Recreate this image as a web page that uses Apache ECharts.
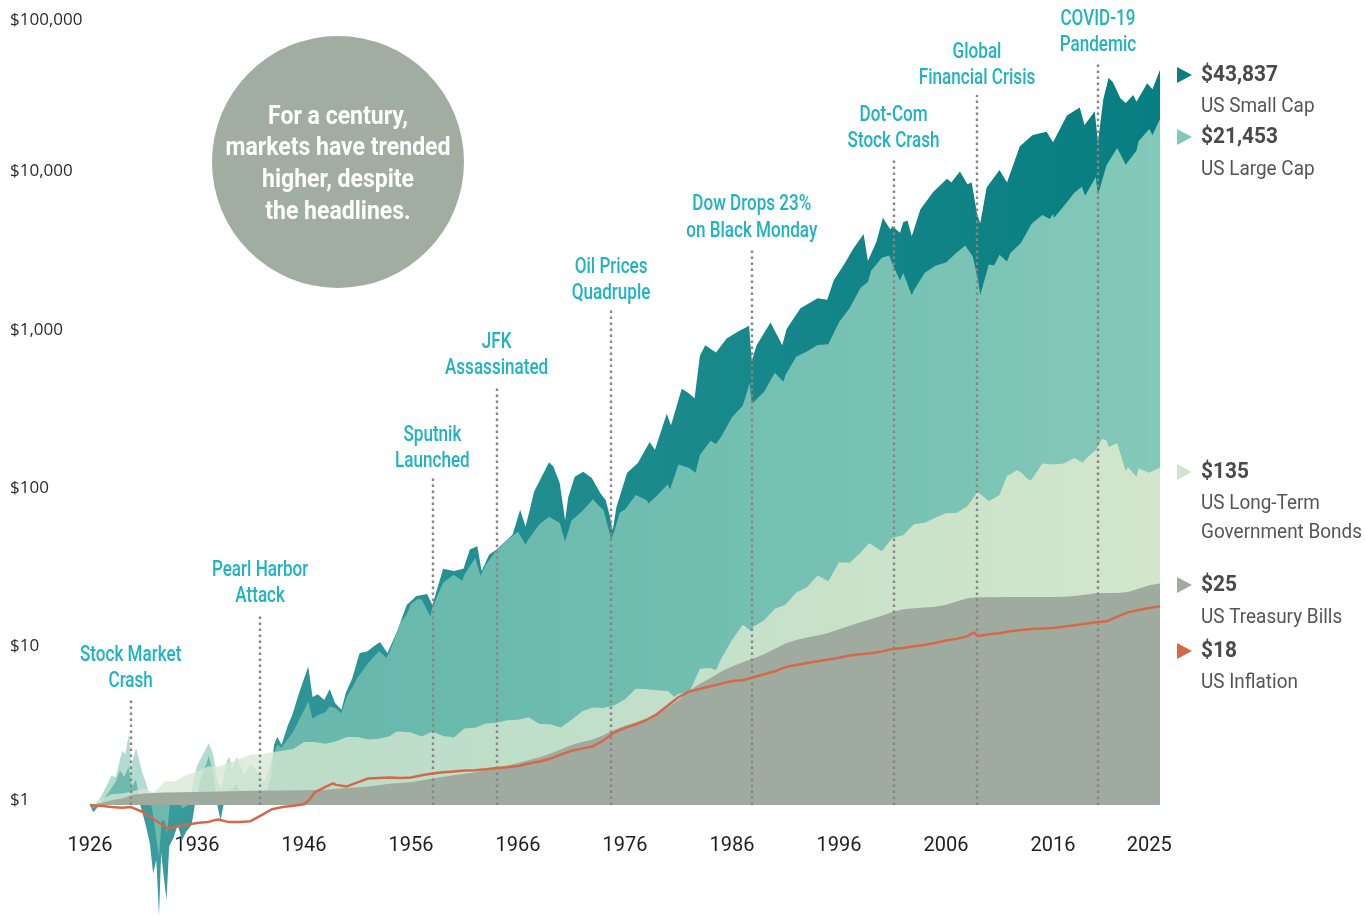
<!DOCTYPE html>
<html>
<head>
<meta charset="utf-8">
<script src="https://cdn.jsdelivr.net/npm/echarts@6/dist/echarts.min.js"></script>
<style>html,body{margin:0;padding:0;background:#fff}#c{width:1365px;height:917px}</style>
</head>
<body>
<div id="c"></div>
<script>
// ---------- DATA (time in years, growth of $1) ----------
const smallCap = [[1926.0,1.00],[1926.3,0.90],[1926.9,1.00],[1927.7,1.19],[1928.4,1.40],[1928.8,1.66],[1929.2,1.50],[1929.6,1.74],[1929.9,1.30],[1930.3,1.45],[1930.7,1.00],[1931.2,0.75],[1931.6,0.57],[1931.9,0.37],[1932.2,0.45],[1932.45,0.20],[1932.65,0.50],[1932.9,0.35],[1933.15,0.25],[1933.4,0.55],[1933.8,0.62],[1934.2,0.75],[1934.6,0.60],[1935.0,0.68],[1935.5,0.75],[1935.9,1.10],[1936.4,1.50],[1936.9,1.85],[1937.1,2.05],[1937.5,1.60],[1937.9,1.00],[1938.2,0.80],[1938.6,1.10],[1939.0,1.20],[1939.7,1.35],[1940.4,1.05],[1940.9,1.15],[1941.5,1.05],[1942.3,1.08],[1942.9,1.50],[1943.2,2.40],[1943.5,2.70],[1943.9,2.40],[1944.5,3.20],[1944.9,3.70],[1945.5,5.00],[1945.9,6.00],[1946.4,7.50],[1946.8,4.80],[1947.3,5.00],[1947.9,4.60],[1948.4,5.40],[1948.9,4.40],[1949.5,4.00],[1949.9,5.10],[1950.5,6.30],[1951.2,9.10],[1951.9,9.30],[1952.5,10.0],[1953.1,10.7],[1953.8,9.10],[1954.7,12.5],[1955.6,18.3],[1956.5,20.9],[1957.5,21.5],[1958.0,18.3],[1959.0,31.0],[1960.0,30.0],[1960.9,31.0],[1961.5,41.0],[1962.2,43.0],[1962.6,30.0],[1963.3,38.0],[1964.0,41.0],[1965.5,51.0],[1966.2,73.0],[1966.7,57.0],[1967.1,73.0],[1967.5,95.0],[1968.4,125],[1968.9,146],[1969.3,137],[1969.9,108],[1970.4,63],[1970.7,88],[1971.3,118],[1972.1,127],[1972.9,116],[1973.7,93],[1974.2,84],[1974.6,66],[1974.85,54],[1975.2,76],[1976.2,125],[1977.2,144],[1978.3,196],[1978.8,175],[1979.9,295],[1980.3,250],[1981.3,424],[1981.9,400],[1982.5,370],[1983.0,685],[1983.5,800],[1984.5,720],[1985.5,880],[1986.7,985],[1987.6,1060],[1987.85,640],[1988.3,800],[1989.6,1110],[1990.7,800],[1991.1,1010],[1992.4,1370],[1994.0,1580],[1994.9,1550],[1995.5,2050],[1996.5,2600],[1997.3,3220],[1998.3,4020],[1998.7,2720],[1999.5,3600],[2000.1,5100],[2000.8,4300],[2001.0,4500],[2001.7,4100],[2002.0,4780],[2002.4,4900],[2002.8,3900],[2003.6,5750],[2004.8,7400],[2006.1,9000],[2006.5,8500],[2007.3,10000],[2008.0,8300],[2008.4,8500],[2008.9,5400],[2009.2,4700],[2009.8,7900],[2011.0,10200],[2011.7,8500],[2012.9,14400],[2014.1,17000],[2015.4,17800],[2016.0,15300],[2017.3,22500],[2018.5,25300],[2018.95,19600],[2019.9,24000],[2020.2,15300],[2020.7,28500],[2021.2,39000],[2021.6,36500],[2022.3,29000],[2022.8,27000],[2023.5,30400],[2023.8,27500],[2024.8,36000],[2025.3,33000],[2026.0,43837]];

const largeCap = [[1926.0,1.00],[1926.3,0.95],[1927.0,1.12],[1927.5,1.30],[1928.0,1.53],[1928.4,1.50],[1929.0,2.20],[1929.3,2.10],[1929.65,2.85],[1929.85,1.75],[1930.3,2.30],[1930.9,1.59],[1931.2,1.40],[1931.6,1.12],[1931.9,0.86],[1932.45,0.47],[1932.7,0.80],[1933.0,0.79],[1933.2,0.65],[1933.5,1.10],[1934.0,1.21],[1934.6,0.95],[1935.2,1.00],[1936.0,1.77],[1936.5,2.05],[1937.1,2.46],[1937.5,2.10],[1937.9,1.45],[1938.25,1.25],[1938.8,1.90],[1939.0,2.02],[1939.3,1.70],[1939.7,2.00],[1940.4,1.55],[1941.0,1.81],[1941.9,1.55],[1942.3,1.40],[1943.0,1.93],[1943.5,2.40],[1943.9,2.30],[1945.0,2.91],[1945.5,3.40],[1946.0,3.97],[1946.4,4.50],[1946.8,3.50],[1947.3,3.70],[1948.0,3.85],[1948.4,4.20],[1949.0,4.07],[1949.5,3.80],[1950.0,4.83],[1950.5,5.50],[1951.0,6.36],[1952.0,7.89],[1953.0,9.34],[1953.7,8.50],[1954.0,9.24],[1955.0,14.1],[1955.6,16.0],[1956.0,18.6],[1956.6,20.0],[1957.0,19.8],[1957.8,15.5],[1958.0,17.7],[1959.0,25.3],[1960.0,28.4],[1960.8,26.0],[1961.0,28.5],[1962.0,36.2],[1962.5,28.0],[1963.0,33.0],[1964.0,40.6],[1965.0,47.2],[1966.0,53.1],[1966.7,44.0],[1967.0,47.8],[1968.0,59.2],[1968.9,66.0],[1969.9,60.2],[1970.4,46.0],[1971.0,62.6],[1972.0,71.6],[1973.0,85.2],[1973.5,78.0],[1974.0,72.7],[1974.7,48.0],[1975.0,53.4],[1975.5,70.0],[1976.0,73.3],[1977.0,90.7],[1978.0,84.2],[1978.2,80.0],[1979.0,89.8],[1980.0,106],[1980.2,98],[1981.0,141],[1982.0,134],[1982.6,125],[1983.0,162],[1984.0,199],[1984.5,190],[1985.0,212],[1986.0,280],[1987.0,331],[1987.65,460],[1987.85,340],[1988.0,349],[1989.0,407],[1990.0,535],[1990.8,470],[1991.0,518],[1992.0,677],[1993.0,729],[1994.0,802],[1995.0,812],[1996.0,1116],[1997.0,1374],[1998.0,1833],[1998.7,2000],[1999.0,2357],[2000.0,2852],[2000.7,2950],[2001.0,2590],[2001.7,2050],[2002.0,2280],[2002.8,1650],[2003.0,1775],[2004.0,2285],[2005.0,2533],[2006.0,2658],[2007.0,3077],[2007.8,3400],[2008.0,3246],[2008.5,2900],[2009.0,2045],[2009.2,1650],[2010.0,2587],[2010.5,2550],[2011.0,2977],[2011.7,2700],[2012.0,3040],[2013.0,3527],[2014.0,4669],[2015.0,5308],[2015.7,5000],[2016.0,5382],[2016.1,5100],[2017.0,6028],[2018.0,7343],[2018.7,8000],[2019.0,7020],[2020.0,9231],[2020.2,7100],[2021.0,10929],[2022.0,14066],[2022.8,11000],[2023.0,11520],[2023.8,13500],[2024.0,15500],[2025.0,18500],[2025.3,17000],[2026.0,21453]];

const bonds = [[1926,1.00],[1927,1.08],[1928,1.17],[1929,1.18],[1930,1.22],[1931,1.27],[1932,1.20],[1933,1.41],[1934,1.41],[1935,1.55],[1936,1.62],[1937,1.75],[1938,1.75],[1939,1.85],[1940,1.96],[1941,2.08],[1942,2.09],[1943,2.15],[1944,2.20],[1945,2.26],[1946,2.50],[1947,2.50],[1948,2.44],[1949,2.53],[1950,2.69],[1951,2.69],[1952,2.59],[1953,2.62],[1954,2.72],[1954.6,2.90],[1955,2.91],[1956,2.87],[1957,2.71],[1958,2.91],[1959,2.73],[1960,2.67],[1961,3.04],[1962,3.07],[1963,3.27],[1964,3.31],[1965,3.43],[1966,3.45],[1967,3.58],[1968,3.25],[1969,3.24],[1970,3.08],[1971,3.45],[1972,3.91],[1973,4.13],[1974,4.09],[1975,4.27],[1976,4.65],[1977,5.42],[1978,5.38],[1979,5.31],[1980,5.24],[1980.6,4.80],[1981,5.04],[1982,5.14],[1983,7.26],[1984,7.32],[1984.5,7.10],[1985,8.42],[1986,11.02],[1987,13.73],[1987.8,12.50],[1988,13.34],[1989,14.68],[1990,17.33],[1991,18.40],[1992,21.94],[1993,23.71],[1994,28.07],[1995,25.86],[1996,34.07],[1997,33.78],[1998,39.12],[1998.8,45.00],[1999,44.20],[2000,40.00],[2001,48.60],[2002,50.50],[2003,59.20],[2004,60.60],[2005,65.10],[2006,69.40],[2007,70.10],[2008,76.90],[2008.95,95.00],[2009,96.00],[2010,82.70],[2011,90.50],[2011.7,120.0],[2012,122.0],[2012.6,130.0],[2013,126.0],[2013.7,113.0],[2014,113.0],[2015,143.0],[2016,141.0],[2017,143.0],[2018,155.0],[2018.8,145.0],[2019,152.0],[2020,174.0],[2020.6,205.0],[2021,200.0],[2021.2,182.0],[2022,192.0],[2022.8,128.0],[2023,136.0],[2023.8,118.0],[2024,133.0],[2025,125.0],[2026,135.0]];

const tBills = [[1926,1.00],[1927,1.03],[1928,1.07],[1929,1.10],[1930,1.16],[1931,1.18],[1932,1.19],[1933,1.20],[1936,1.21],[1941,1.23],[1946,1.24],[1948,1.25],[1950,1.28],[1952,1.31],[1954,1.36],[1956,1.39],[1958,1.47],[1960,1.54],[1962,1.61],[1964,1.71],[1966,1.84],[1968,2.00],[1969,2.11],[1970,2.25],[1971,2.39],[1972,2.50],[1973,2.59],[1974,2.77],[1975,2.99],[1976,3.17],[1977,3.33],[1978,3.50],[1979,3.75],[1980,4.14],[1981,4.60],[1982,5.27],[1983,5.83],[1984,6.34],[1985,6.96],[1986,7.50],[1987,7.96],[1988,8.40],[1989,8.94],[1990,9.69],[1991,10.45],[1992,11.01],[1993,11.40],[1994,11.73],[1995,12.19],[1996,12.87],[1997,13.53],[1998,14.23],[1999,14.93],[2000,15.64],[2001,16.56],[2002,17.19],[2003,17.47],[2004,17.65],[2005,17.86],[2006,18.40],[2007,19.28],[2008,20.19],[2009,20.51],[2012,20.55],[2016,20.60],[2017,20.66],[2018,20.85],[2019,21.24],[2020,21.70],[2021,21.80],[2022,21.81],[2023,22.10],[2024,23.20],[2025,24.40],[2026,25.00]];

const inflation = [[1926.0,1.00],[1926.5,0.99],[1927.0,0.99],[1928.0,0.97],[1929.0,0.96],[1929.8,0.97],[1930.0,0.96],[1931.0,0.90],[1932.0,0.81],[1933.0,0.73],[1933.2,0.71],[1934.0,0.73],[1935.0,0.75],[1936.0,0.77],[1937.0,0.78],[1937.6,0.80],[1938.0,0.81],[1939.0,0.78],[1940.0,0.78],[1941.0,0.79],[1942.0,0.86],[1943.0,0.94],[1944.0,0.97],[1945.0,0.99],[1946.0,1.01],[1946.5,1.08],[1947.0,1.20],[1948.0,1.30],[1948.7,1.37],[1949.0,1.34],[1950.0,1.31],[1951.0,1.39],[1952.0,1.47],[1953.0,1.48],[1954.0,1.49],[1955.0,1.48],[1956.0,1.49],[1957.0,1.54],[1958.0,1.58],[1959.0,1.61],[1960.0,1.63],[1961.0,1.65],[1962.0,1.66],[1963.0,1.68],[1964.0,1.71],[1965.0,1.73],[1966.0,1.76],[1967.0,1.83],[1968.0,1.88],[1969.0,1.96],[1970.0,2.08],[1971.0,2.20],[1972.0,2.27],[1973.0,2.35],[1974.0,2.56],[1975.0,2.87],[1976.0,3.07],[1977.0,3.22],[1978.0,3.44],[1979.0,3.75],[1980.0,4.25],[1981.0,4.79],[1982.0,5.21],[1983.0,5.41],[1984.0,5.62],[1985.0,5.84],[1986.0,6.06],[1987.0,6.13],[1988.0,6.41],[1989.0,6.69],[1990.0,6.99],[1991.0,7.42],[1992.0,7.65],[1993.0,7.87],[1994.0,8.08],[1995.0,8.30],[1996.0,8.51],[1997.0,8.80],[1998.0,8.95],[1999.0,9.09],[2000.0,9.33],[2001.0,9.65],[2002.0,9.80],[2003.0,10.04],[2004.0,10.23],[2005.0,10.57],[2006.0,10.92],[2007.0,11.19],[2008.0,11.65],[2008.6,12.30],[2009.0,11.65],[2010.0,11.97],[2011.0,12.15],[2012.0,12.51],[2013.0,12.73],[2014.0,12.92],[2015.0,13.01],[2016.0,13.10],[2017.0,13.37],[2018.0,13.66],[2019.0,13.93],[2020.0,14.25],[2021.0,14.44],[2022.0,15.46],[2023.0,16.45],[2024.0,17.00],[2025.0,17.50],[2026.0,18.00]];

const xTickLabels = [1926,1936,1946,1956,1966,1976,1986,1996,2006,2016,2025];
const eventYears  = [1929.8,1941.9,1958.0,1964.0,1974.7,1987.85,2001.1,2008.9,2020.2];
const eventTops   = [4.74,16.3,116,449,1335,3317,12160,30360,49070];
const eventLabels = ['Stock Market\nCrash','Pearl Harbor\nAttack','Sputnik\nLaunched','JFK\nAssassinated','Oil Prices\nQuadruple','Dow Drops 23%\non Black Monday','Dot-Com\nStock Crash','Global\nFinancial Crisis','COVID-19\nPandemic'];
const legendValues = ['$43,837','$21,453','$135','$25','$18'];
const legendNames  = ['US Small Cap','US Large Cap','US Long-Term\nGovernment Bonds','US Treasury Bills','US Inflation'];
const calloutText  = 'For a century,\nmarkets have trended\nhigher, despite\nthe headlines.';

// ---------- fonts (condensed look by horizontal scaling) ----------
const FONT = 'Roboto';
const mctx = document.createElement('canvas').getContext('2d');
function scaleFor(text, weight, size, target){ mctx.font = weight + ' ' + size + 'px ' + FONT; return target / mctx.measureText(text).width; }
const annSize = 22, annScale = scaleFor('on Black Monday', '500', annSize, 131);
const legNameSize = 21, legNameScale = scaleFor('Government Bonds', 'normal', legNameSize, 161);
const legValSize = 22, legValScale = scaleFor('$43,837', 'bold', legValSize, 77);
const circSize = 25, circScale = scaleFor('markets have trended', 'bold', circSize, 225);

// ---------- chart ----------
function grad(stops){ return {type:'linear',x:0,y:0,x2:1,y2:0,colorStops:stops.map(s=>({offset:s[0],color:s[1]}))}; }
function area(name, data, color){
  return {type:'line', name, data, symbol:'none', showSymbol:false, smooth:false, silent:true,
    lineStyle:{width:0, opacity:0}, areaStyle:{color, origin:1, opacity:1}};
}
const chart = echarts.init(document.getElementById('c'), null, {renderer:'canvas'});
const yFmt = v => {
  if (v < 0.99) return '';
  const s = '$' + Math.round(v).toLocaleString('en-US');
  if (Math.round(v) === 100000) return '{t|' + s + '}';
  if (Math.round(v) === 1) return '{b|' + s + '}';
  return s;
};
const yLabFont = {fontFamily:"'Open Sans', sans-serif", fontSize:17, color:'#2b2b2b'};

const legendY = [75,137,472,585,651];
const legendNameY = [104,167,501,615,680];
const legendColors = ['#0a7f82','#82c9b8','#cfe5cb','#a0ab9f','#d4694a'];
const graphics = [
  {type:'circle', shape:{cx:338, cy:162, r:126}, style:{fill:'#a0ada0'}, silent:true, z:10},
  {type:'text', x:338, y:165, scaleX:circScale, silent:true, z:11, style:{text:calloutText, fill:'#ffffff', fontFamily:FONT, fontWeight:'bold', fontSize:circSize, lineHeight:31.7, align:'center', verticalAlign:'middle'}}
];
legendValues.forEach((v,i)=>{
  const y = legendY[i];
  graphics.push({type:'polygon', shape:{points:[[1177,y-8],[1177,y+8],[1192,y]]}, style:{fill:legendColors[i]}, silent:true, z:10});
  graphics.push({type:'text', x:1201, y:y, scaleX:legValScale, silent:true, z:10, style:{text:v, fill:'#4a4a4a', fontFamily:FONT, fontWeight:'bold', fontSize:legValSize, align:'left', verticalAlign:'middle'}});
  graphics.push({type:'text', x:1201, y:legendNameY[i] - 12, scaleX:legNameScale, silent:true, z:10, style:{text:legendNames[i], fill:'#555555', fontFamily:FONT, fontSize:legNameSize, lineHeight:29, align:'left', verticalAlign:'top'}});
});

chart.setOption({
  animation:false,
  backgroundColor:'#ffffff',
  grid:{left:90, right:205, top:13, bottom:-46.4, containLabel:false, outerBoundsMode:'none'},
  xAxis:{type:'value', min:1926, max:2026, offset:-134,
    axisLine:{show:false}, axisTick:{show:false}, splitLine:{show:false},
    axisLabel:{customValues:xTickLabels, margin:7, color:'#1e1e1e', fontFamily:FONT, fontSize:20, formatter:v=>String(Math.round(v))}},
  yAxis:{type:'log', logBase:10, min:0.1, max:100000,
    axisLine:{show:false}, axisTick:{show:false}, splitLine:{show:false},
    axisLabel:Object.assign({align:'left', margin:80, formatter:yFmt,
      rich:{t:Object.assign({padding:[14,0,0,0]}, yLabFont), b:Object.assign({padding:[0,0,10,0]}, yLabFont)}}, yLabFont)},
  series:[
    area('US Small Cap', smallCap, grad([[0,'#3f9e9e'],[0.2,'#2e9597'],[0.45,'#1e8c8f'],[0.75,'#118487'],[1,'#077e81']])),
    area('US Large Cap', largeCap, grad([[0,'rgba(138,201,184,0.65)'],[0.25,'rgba(137,204,185,0.65)'],[0.5,'rgba(155,216,194,0.65)'],[0.75,'rgba(176,228,204,0.65)'],[1,'rgba(198,241,214,0.65)']])),
    area('US Long-Term Government Bonds', bonds, grad([[0,'rgba(214,232,210,0.74)'],[0.5,'rgba(214,232,207,0.80)'],[1,'rgba(217,232,205,0.92)']])),
    area('US Treasury Bills', tBills, '#a0ab9f'),
    {type:'line', name:'US Inflation', data:inflation, symbol:'none', showSymbol:false, smooth:false, silent:true,
      lineStyle:{color:'#d4694a', width:2.5}, z:5,
      markLine:{silent:true, symbol:['none','none'], animation:false,
        lineStyle:{color:'#868686', width:2.4, type:[2.4,3.6], cap:'butt'},
        label:{show:false},
        emphasis:{disabled:true},
        data:eventYears.map((yr,i)=>[{name:eventLabels[i], coord:[yr,1]},{coord:[yr,eventTops[i]]}])}}
  ],
  graphic:graphics
});

// event labels placed at the top of each dotted line via the chart's own scales
const annG = eventYears.map((yr,i)=>{
  const p = chart.convertToPixel({gridIndex:0}, [yr, eventTops[i]]);
  return {type:'text', x:p[0], y:p[1] - 3, scaleX:annScale, silent:true, z:12,
    style:{text:eventLabels[i], fill:'#22b3c0', fontFamily:FONT, fontWeight:500, fontSize:annSize, lineHeight:26.5, align:'center', verticalAlign:'bottom'}};
});
chart.setOption({graphic: graphics.concat(annG)});
</script>
</body>
</html>
